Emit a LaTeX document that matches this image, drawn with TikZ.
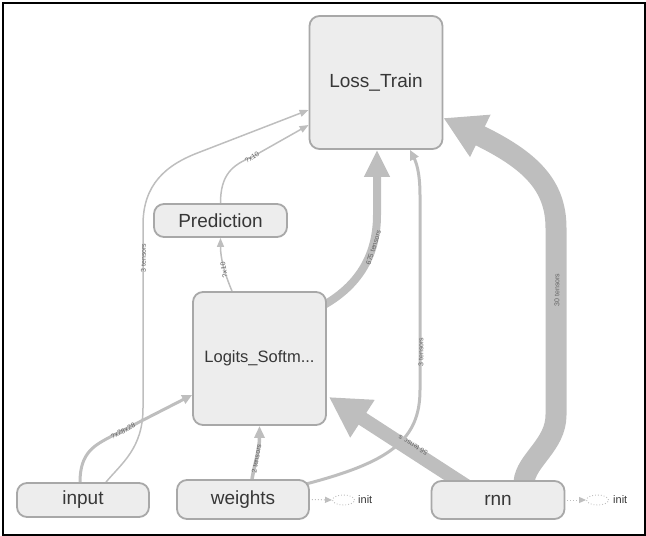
\documentclass[tikz,border=0pt]{standalone}
\usepackage{fontspec}
\setmainfont{Liberation Sans}
\usetikzlibrary{arrows.meta,shapes.geometric,calc}
\definecolor{edgec}{RGB}{190,190,190}
\definecolor{nodefill}{RGB}{237,237,237}
\definecolor{nodeline}{RGB}{168,168,168}
\definecolor{txt}{RGB}{55,55,55}
\definecolor{lbl}{RGB}{100,100,100}
\pgfdeclarelayer{bg}
\pgfsetlayers{bg,main}
\begin{document}
\begin{tikzpicture}[x=1pt,y=-1pt,
  opnode/.style={draw=nodeline, line width=1.8pt, fill=nodefill, rounded corners=10pt,
    inner sep=0pt, text=txt, font=\fontsize{19}{22}\selectfont},
  elabel/.style={font=\fontsize{7}{8}\selectfont, text=lbl, inner sep=0pt},
  flow/.style={draw=edgec, line cap=butt},
  thinflow/.style={flow, line width=1.5pt, -{Triangle[length=9pt,width=7pt]}},
  midflow/.style={flow, line width=3pt, -{Triangle[length=10pt,width=9pt]}},
  initell/.style={draw=edgec, dotted, ellipse, line width=0.9pt, minimum width=22pt,
    minimum height=10pt, inner sep=0pt},
  initlab/.style={anchor=west, font=\fontsize{11}{13}\selectfont, text=txt, inner sep=0pt},
  initflow/.style={draw=edgec, dotted, line width=1pt, -{Triangle[length=7pt,width=6pt]}}]
\useasboundingbox (0,0) rectangle (646,536);
\draw[line width=2.4pt] (2.8,2.8) rectangle (644.8,534.8);

% nodes
\node[opnode, minimum width=133pt, minimum height=133pt] (loss) at (376,82.5) {Loss\_Train};
\node[opnode, minimum width=133pt, minimum height=33pt] (pred) at (220.5,220.5) {Prediction};
\node[opnode, minimum width=133pt, minimum height=133pt, font=\fontsize{16.5}{19}\selectfont] (logits) at (259.5,358.5) {Logits\_Softm...};
\node[opnode, minimum width=132pt, minimum height=34pt] (input) at (83,500) {input};
\node[opnode, minimum width=132pt, minimum height=39pt] (weights) at (243,499.5) {weights};
\node[opnode, minimum width=133pt, minimum height=38pt] (rnn) at (498,500) {rnn};

% init markers
\node[initell] (winit) at (343.5,500) {};
\node[initlab] (wlab) at (358,500) {init};
\node[initell] (rinit) at (597.5,500) {};
\node[initlab] (rlab) at (613,500) {init};
\draw[initflow] ([xshift=2pt]weights.east) -- (winit.west);
\draw[initflow] ([xshift=2pt]rnn.east) -- (rinit.west);

\begin{pgfonlayer}{bg}
% input -> logits
\draw[midflow] ([xshift=-3pt]input.north) .. controls (80,452) and (95,445) .. (112,436) -- ([yshift=-36.5pt]logits.west);
\node[elabel, rotate=27] (lA) at (123,431) {?x28x28};
% input -> loss
\draw[thinflow] ([xshift=23pt]input.north) .. controls (122,463) and (143,448) .. (143,408) -- (143,225) .. controls (143,185) and (165,165) .. (200,152) -- ([yshift=-27.5pt]loss.west);
\node[elabel, rotate=90] (lB) at (143.5,258) {3 tensors};
% prediction -> loss
\draw[thinflow] (pred.north) .. controls (220.5,175) and (232,165) .. (252,157) -- ([yshift=-42.5pt]loss.west);
\node[elabel, rotate=31] (lC) at (252,157.5) {?x10};
% logits -> prediction
\draw[thinflow] ([xshift=-27.5pt]logits.north) .. controls (224,272) and (220.5,258) .. (pred.south);
\node[elabel, rotate=100] (lD) at (224,270) {?x10};
% logits -> loss
\draw[flow, line width=8pt, -{Triangle[length=27pt,width=24pt]}] ([xshift=-3pt,yshift=53.5pt]logits.east) .. controls (352,289) and (377,262) .. (377,215) -- ([xshift=1pt]loss.south);
\node[elabel, rotate=73] (lE) at (373.5,247.5) {675 tensors};
% weights -> logits
\draw[flow, line width=3.5pt, -{Triangle[length=12pt,width=10pt]}] ([xshift=9pt]weights.north) .. controls (255,462) and (259.5,450) .. (logits.south);
\node[elabel, rotate=80] (lF) at (256.5,459) {2 tensors};
% rnn -> logits
\draw[flow, line width=14pt, -{Triangle[length=40pt,width=42pt]}] ([xshift=-30pt,yshift=-7pt]rnn.north) -- ([xshift=2pt,yshift=-38.5pt]logits.east);
\node[elabel, rotate=150] (lH) at (413,445) {56 tensors};
% weights -> loss
\draw[midflow] ([xshift=-4pt,yshift=15.5pt]weights.east) .. controls (390,462) and (420,440) .. (420,390) -- (420,195) .. controls (420,172) and (416,162) .. ([xshift=34pt]loss.south);
\node[elabel, rotate=90] (lG) at (421,352) {3 tensors};
% rnn -> loss
\draw[flow, line width=21pt, -{Triangle[length=41pt,width=44pt]}] ([xshift=26pt,yshift=-2pt]rnn.north) .. controls (526,460) and (556,445) .. (556,415) -- (556,228) .. controls (556,185) and (530,160) .. ([yshift=-35.5pt]loss.east);
\node[elabel, rotate=90] (lI) at (557,290) {30 tensors};
\end{pgfonlayer}
\end{tikzpicture}
\end{document}
